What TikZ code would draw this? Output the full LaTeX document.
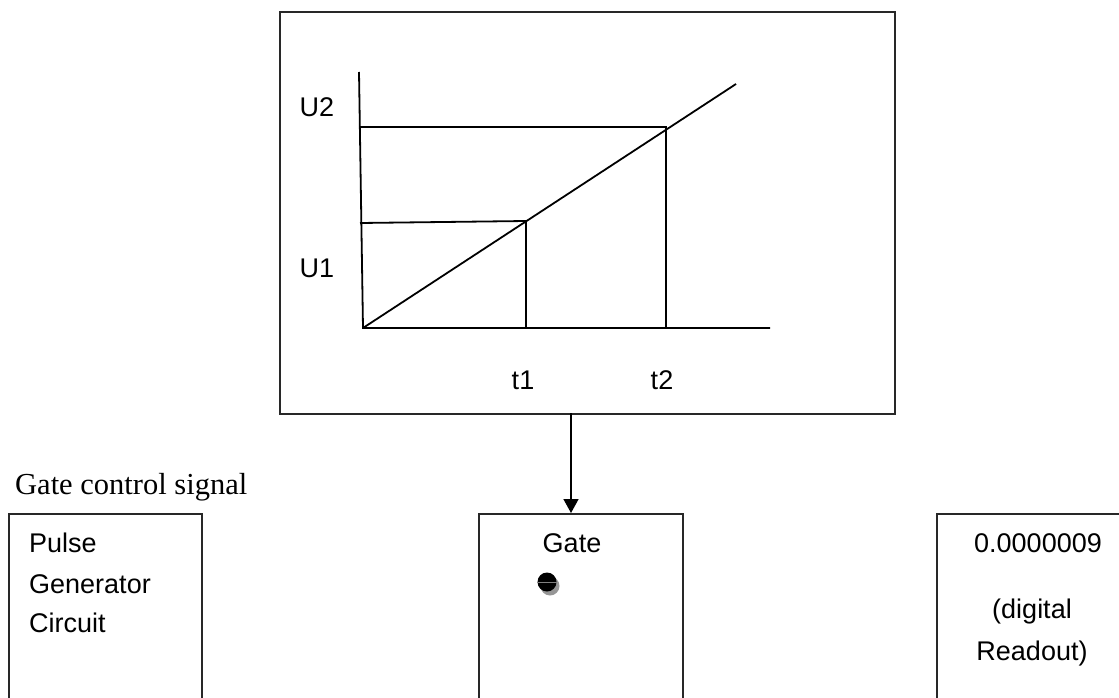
\documentclass[tikz,border=0pt]{standalone}
\usepackage{fontspec}
\setmainfont{Liberation Sans}
\newfontfamily\serifface{Liberation Serif}
\usepackage{tikz}
\usetikzlibrary{arrows.meta,positioning}
\definecolor{edgegray}{RGB}{40,40,40}
\definecolor{shadowgray}{RGB}{150,150,150}

\tikzset{
  panel/.style={draw=edgegray, line width=1.6pt, anchor=north west, inner sep=0pt},
  plotline/.style={draw=black, line width=1.8pt},
  lbl/.style={inner sep=0pt, font=\fontsize{27}{31}\selectfont},
  knob/.style={circle, fill=black, minimum size=19pt, inner sep=0pt},
  signal/.style={-{Triangle[length=14pt,width=15pt]}, line width=1.5pt}
}

\begin{document}
\begin{tikzpicture}[x=1pt, y=-1pt]
\useasboundingbox (0,0) rectangle (1119,698);
\clip (0,0) rectangle (1119,698);

\node[panel, minimum width=615pt, minimum height=402pt] (plotbox) at (279,11) {};
\node[panel, minimum width=193pt, minimum height=260pt] (pulsebox) at (8,513) {};
\node[panel, minimum width=204pt, minimum height=260pt] (gatebox) at (478,513) {};
\node[panel, minimum width=250pt, minimum height=260pt] (readoutbox) at (936,513) {};

\coordinate (origin) at (363,328);
\coordinate (ytop) at (359,72);
\coordinate (xend) at (770,328);
\coordinate (u2) at (359,127);
\coordinate (u1) at (360,223);
\coordinate (p1) at (526,221);
\coordinate (p2) at (666,127);
\coordinate (rampend) at (736,84);
\draw[plotline] (ytop) -- (origin) -- (xend);
\draw[plotline] (origin) -- (rampend);
\draw[plotline] (u2) -- (p2) -- (p2 |- origin);
\draw[plotline] (u1) -- (p1) -- (p1 |- origin);

\node[lbl] (labu2) at (317,107) {U2};
\node[lbl] (labu1) at (317,268) {U1};
\node[lbl] (labt1) at (523,380) {t1};
\node[lbl] (labt2) at (662,380) {t2};

\coordinate (arrowtop) at (571,413);
\draw[signal] (arrowtop) -- (arrowtop |- gatebox.north);

\node[lbl, anchor=base west, font=\serifface\fontsize{30.5}{34}\selectfont] (ctrl) at (15,494) {Gate control signal};

\node[lbl, anchor=base west] (pulse) at (29,552) {Pulse};
\node[lbl, anchor=base west] (generator) at (29,593) {Generator};
\node[lbl, anchor=base west] (circuit) at (29,632) {Circuit};

\node[lbl, anchor=base] (gatelbl) at (572,552) {Gate};
\fill[shadowgray] (550,586) circle (9.5);
\node[knob] (switch) at (547,582) {};
\draw[gray, line width=0.8pt] (switch.west) -- (switch.east);

\node[lbl, anchor=base] (reading) at (1038,552) {0.0000009};
\node[lbl, anchor=base] (digital) at (1032,618) {(digital};
\node[lbl, anchor=base] (readout) at (1032,660) {Readout)};
\end{tikzpicture}
\end{document}
